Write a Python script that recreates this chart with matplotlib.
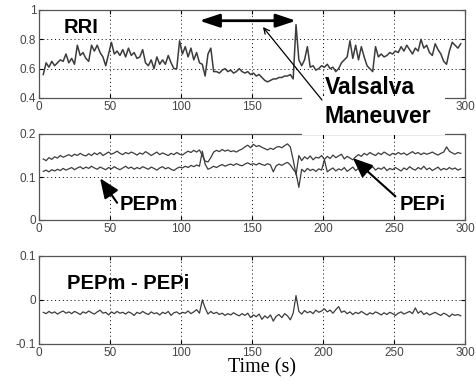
import numpy as np
import matplotlib
matplotlib.use("Agg")
import matplotlib.pyplot as plt
from matplotlib.patches import Rectangle, ConnectionPatch

# ================================================================================================
# Data (read from the figure, sampled every 2 s)
# ================================================================================================
time = np.arange(3, 299, 2)

rri = [0.56, 0.64, 0.61, 0.65, 0.62, 0.64, 0.66, 0.65, 0.70, 0.64,
       0.67, 0.63, 0.76, 0.69, 0.71, 0.67, 0.65, 0.76, 0.72, 0.76,
       0.71, 0.68, 0.62, 0.70, 0.78, 0.70, 0.72, 0.69, 0.73, 0.68,
       0.74, 0.69, 0.71, 0.67, 0.68, 0.73, 0.64, 0.62, 0.66, 0.60,
       0.68, 0.63, 0.66, 0.63, 0.69, 0.64, 0.60, 0.60, 0.79, 0.70,
       0.75, 0.68, 0.74, 0.66, 0.71, 0.64, 0.63, 0.55, 0.70, 0.74,
       0.58, 0.58, 0.57, 0.59, 0.60, 0.58, 0.59, 0.57, 0.58, 0.60,
       0.58, 0.57, 0.58, 0.56, 0.57, 0.55, 0.56, 0.54, 0.52, 0.51,
       0.52, 0.53, 0.53, 0.54, 0.54, 0.55, 0.55, 0.56, 0.53, 0.90,
       0.66, 0.62, 0.66, 0.75, 0.61, 0.62, 0.59, 0.60, 0.62, 0.61,
       0.63, 0.60, 0.61, 0.58, 0.60, 0.64, 0.66, 0.68, 0.79, 0.67,
       0.76, 0.66, 0.75, 0.68, 0.62, 0.60, 0.58, 0.75, 0.68, 0.70,
       0.68, 0.69, 0.71, 0.70, 0.72, 0.71, 0.75, 0.72, 0.76, 0.73,
       0.70, 0.74, 0.72, 0.80, 0.74, 0.76, 0.71, 0.69, 0.77, 0.73,
       0.70, 0.65, 0.63, 0.72, 0.78, 0.76, 0.74, 0.77]

pep_i = [0.142, 0.138, 0.145, 0.141, 0.147, 0.144, 0.150, 0.146, 0.149, 0.152,
         0.148, 0.153, 0.150, 0.155, 0.151, 0.149, 0.154, 0.150, 0.156, 0.152,
         0.157, 0.150, 0.154, 0.158, 0.153, 0.156, 0.160, 0.155, 0.152, 0.157,
         0.154, 0.158, 0.155, 0.151, 0.156, 0.153, 0.159, 0.155, 0.150, 0.154,
         0.158, 0.152, 0.156, 0.153, 0.150, 0.155, 0.152, 0.157, 0.153, 0.151,
         0.156, 0.160, 0.157, 0.162, 0.158, 0.163, 0.150, 0.137, 0.135, 0.145,
         0.158, 0.162, 0.159, 0.164, 0.160, 0.163, 0.159, 0.161, 0.158, 0.162,
         0.165, 0.170, 0.174, 0.168, 0.176, 0.171, 0.173, 0.169, 0.166, 0.163,
         0.167, 0.164, 0.169, 0.171, 0.168, 0.173, 0.177, 0.170, 0.140, 0.105,
         0.150, 0.138, 0.147, 0.142, 0.149, 0.140, 0.146, 0.144, 0.150, 0.141,
         0.148, 0.143, 0.151, 0.145, 0.149, 0.153, 0.142, 0.148, 0.144, 0.140,
         0.147, 0.152, 0.148, 0.155, 0.151, 0.157, 0.153, 0.150, 0.156, 0.152,
         0.158, 0.154, 0.150, 0.155, 0.152, 0.157, 0.153, 0.156, 0.151, 0.155,
         0.159, 0.154, 0.157, 0.152, 0.156, 0.153, 0.155, 0.158, 0.154, 0.151,
         0.155, 0.158, 0.170, 0.160, 0.156, 0.153, 0.157, 0.155]

pep_m = [0.113, 0.116, 0.112, 0.117, 0.114, 0.118, 0.115, 0.120, 0.116, 0.119,
         0.122, 0.117, 0.121, 0.124, 0.119, 0.123, 0.120, 0.125, 0.121, 0.118,
         0.123, 0.120, 0.117, 0.122, 0.119, 0.124, 0.120, 0.117, 0.121, 0.125,
         0.120, 0.123, 0.118, 0.122, 0.119, 0.124, 0.121, 0.118, 0.123, 0.120,
         0.116, 0.121, 0.124, 0.119, 0.122, 0.118, 0.115, 0.120, 0.123, 0.121,
         0.125, 0.122, 0.127, 0.124, 0.128, 0.125, 0.160, 0.130, 0.118, 0.121,
         0.125, 0.122, 0.126, 0.129, 0.125, 0.128, 0.130, 0.127, 0.131, 0.128,
         0.126, 0.130, 0.133, 0.129, 0.131, 0.128, 0.132, 0.129, 0.127, 0.131,
         0.128, 0.112, 0.126, 0.130, 0.127, 0.131, 0.134, 0.128, 0.118, 0.110,
         0.076, 0.118, 0.112, 0.120, 0.115, 0.118, 0.113, 0.119, 0.116, 0.140,
         0.112, 0.117, 0.121, 0.114, 0.119, 0.116, 0.122, 0.113, 0.118, 0.123,
         0.115, 0.120, 0.117, 0.122, 0.114, 0.119, 0.124, 0.116, 0.121, 0.118,
         0.123, 0.115, 0.120, 0.117, 0.122, 0.118, 0.114, 0.121, 0.117, 0.124,
         0.119, 0.116, 0.122, 0.118, 0.125, 0.117, 0.121, 0.115, 0.119, 0.123,
         0.116, 0.120, 0.117, 0.122, 0.118, 0.121, 0.116, 0.119]

pep_diff = [-0.028, -0.031, -0.026, -0.030, -0.027, -0.032, -0.028, -0.025, -0.030, -0.027,
            -0.031, -0.026, -0.029, -0.033, -0.027, -0.030, -0.025, -0.029, -0.032, -0.027,
            -0.023, -0.030, -0.028, -0.034, -0.027, -0.031, -0.026, -0.030, -0.028, -0.032,
            -0.027, -0.030, -0.035, -0.028, -0.031, -0.026, -0.030, -0.033, -0.027, -0.031,
            -0.029, -0.034, -0.028, -0.031, -0.026, -0.035, -0.029, -0.027, -0.032, -0.028,
            -0.030, -0.025, -0.031, -0.027, -0.022, -0.030, 0.000, -0.018, -0.032, -0.026,
            -0.031, -0.028, -0.033, -0.030, -0.035, -0.031, -0.034, -0.029, -0.033, -0.036,
            -0.031, -0.035, -0.030, -0.040, -0.034, -0.038, -0.032, -0.044, -0.036, -0.041,
            -0.034, -0.048, -0.037, -0.033, -0.040, -0.031, -0.036, -0.045, -0.030, 0.010,
            -0.026, -0.032, -0.024, -0.029, -0.026, -0.031, -0.023, -0.028, -0.025, -0.020,
            -0.027, -0.023, -0.030, -0.022, -0.015, -0.028, -0.025, -0.031, -0.027, -0.033,
            -0.028, -0.031, -0.026, -0.030, -0.034, -0.029, -0.032, -0.027, -0.030, -0.034,
            -0.029, -0.033, -0.028, -0.031, -0.035, -0.030, -0.027, -0.032, -0.029, -0.026,
            -0.031, -0.018, -0.030, -0.025, -0.033, -0.029, -0.034, -0.031, -0.028, -0.032,
            -0.035, -0.030, -0.033, -0.038, -0.032, -0.035, -0.033, -0.036]

xticks = [0, 50, 100, 150, 200, 250, 300]
xticklabels = ["0", "50", "100", "150", "200", "250", "300"]
# the Valsalva label hides 200 and 250 under the top panel
rri_xticklabels = ["0", "50", "100", "150", "", "", "300"]
rri_ticks = [0.4, 0.6, 0.8, 1.0]
rri_ticklabels = ["0.4", "0.6", "0.8", "1"]
pep_ticks = [0, 0.1, 0.2]
pep_ticklabels = ["0", "0.1", "0.2"]
diff_ticks = [-0.1, 0, 0.1]
diff_ticklabels = ["-0.1", "0", "0.1"]

valsalva_start, valsalva_end = 113, 181

# ================================================================================================
# Figure
# ================================================================================================
W, H = 476, 387
plt.rcParams["font.family"] = ["Liberation Sans", "DejaVu Sans"]

fig = plt.figure(figsize=(W / 100, H / 100), dpi=100)


def fig_xy(x, y):
    # image pixel -> figure fraction
    return x / W, 1 - y / H


def make_axes(top, bottom, yticks, yticklabels, xlabels):
    ax = fig.add_axes([39 / W, 1 - bottom / H, (465 - 39) / W, (bottom - top) / H])
    ax.set_xlim(0, 300)
    ax.set_ylim(yticks[0], yticks[-1])
    ax.set_xticks(xticks)
    ax.set_xticklabels(xlabels)
    ax.set_yticks(yticks)
    ax.set_yticklabels(yticklabels)
    ax.grid(True, color="black", linestyle=(0, (1, 3)), linewidth=0.7)
    ax.tick_params(direction="in", top=True, right=True, length=3, width=0.8,
                   labelsize=8.5, labelcolor="#444444", pad=2)
    for s in ax.spines.values():
        s.set_color("#555555")
        s.set_linewidth(0.9)
    return ax


line_col = "#3c3c3c"
label_font = dict(fontsize=14.5, fontweight="bold", color="black")
arrow_head = "-|>,head_length=0.6,head_width=0.25"

ax1 = make_axes(10, 98, rri_ticks, rri_ticklabels, rri_xticklabels)
ax1.plot(time, rri, color=line_col, lw=1.1)
ax1.text(17, 0.88, "RRI", ha="left", va="center", **label_font)
ax1.annotate("", xy=(valsalva_start, 0.927), xytext=(valsalva_end, 0.927),
             arrowprops=dict(arrowstyle="<|-|>,head_length=0.6,head_width=0.2",
                             mutation_scale=20, lw=2, color="black",
                             shrinkA=0, shrinkB=0))

ax2 = make_axes(134, 220, pep_ticks, pep_ticklabels, xticklabels)
ax2.plot(time, pep_i, color=line_col, lw=0.9)
ax2.plot(time, pep_m, color=line_col, lw=0.9)
ax2.text(57, 0.037, "PEPm", ha="left", va="center", **label_font)
ax2.annotate("", xy=(43, 0.097), xytext=(55, 0.04),
             arrowprops=dict(arrowstyle=arrow_head, mutation_scale=20, lw=1.5,
                             color="black", shrinkA=0, shrinkB=0))
ax2.text(254, 0.037, "PEPi", ha="left", va="center", **label_font)
ax2.annotate("", xy=(221, 0.144), xytext=(251, 0.055),
             arrowprops=dict(arrowstyle=arrow_head, mutation_scale=20, lw=1.5,
                             color="black", shrinkA=0, shrinkB=0))

ax3 = make_axes(256, 344, diff_ticks, diff_ticklabels, xticklabels)
ax3.plot(time, pep_diff, color=line_col, lw=0.9)
ax3.text(20, 0.037, "PEPm - PEPi", ha="left", va="center", **label_font)

# white patch behind the Valsalva label (hides part of the axes frames, as in the original)
x0, y0 = fig_xy(302, 135)
x1, y1 = fig_xy(445, 96)
fig.add_artist(Rectangle((x0, y0), x1 - x0, y1 - y0, transform=fig.transFigure,
                         facecolor="white", edgecolor="none", zorder=2))

fig.text(*fig_xy(325, 94), "Valsalva", ha="left", va="baseline",
         fontsize=16.5, fontweight="bold", zorder=3)
fig.text(*fig_xy(325, 123), "Maneuver", ha="left", va="baseline",
         fontsize=16.5, fontweight="bold", zorder=3)

con = ConnectionPatch(xyA=fig_xy(322, 100), coordsA=fig.transFigure,
                      xyB=(157.7, 0.884), coordsB=ax1.transData,
                      arrowstyle="->", mutation_scale=10, lw=0.9, color="black",
                      shrinkA=0, shrinkB=0, zorder=4)
fig.add_artist(con)

fig.text(*fig_xy(261.5, 368), "Time (s)", ha="center", va="center",
         fontsize=14.5, family=["Liberation Serif", "DejaVu Serif"])

fig.savefig("out.png", dpi=100)
